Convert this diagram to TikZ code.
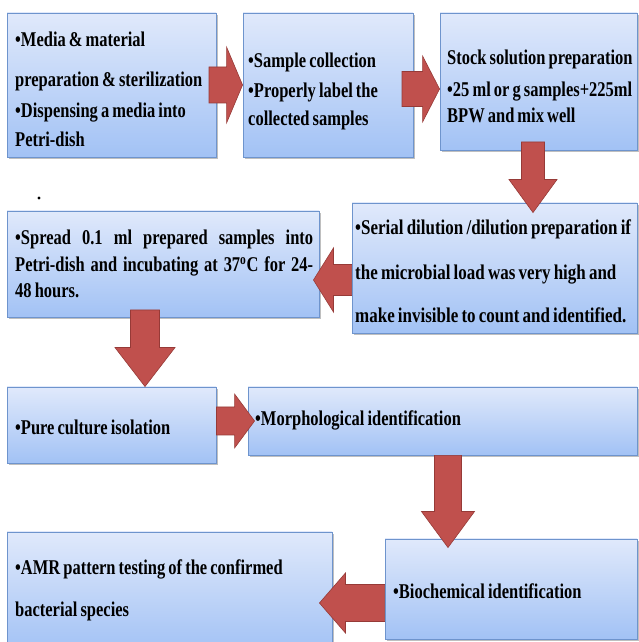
\documentclass[tikz,border=0pt]{standalone}
\usepackage{graphicx}
\usepackage{fontspec}
\setmainfont{Liberation Serif}[FakeStretch=0.785, WordSpace=0.75]
\usetikzlibrary{calc,shadows}
\definecolor{boxtop}{RGB}{224,233,251}
\definecolor{boxbot}{RGB}{162,194,245}
\definecolor{boxline}{RGB}{110,148,205}
\definecolor{arrfill}{RGB}{192,80,77}
\definecolor{arrline}{RGB}{150,58,55}
\tikzset{
 box/.style={rectangle, draw=boxline, line width=0.9pt, top color=boxtop, bottom color=boxbot, inner sep=0pt,
   drop shadow={shadow xshift=1.5pt, shadow yshift=-2pt, fill=black, opacity=0.25}},
 txt/.style={anchor=base west, inner sep=0pt, font=\fontsize{21}{25}\selectfont\bfseries},
 blockarrow/.style={fill=arrfill, draw=arrline, line width=0.6pt, line join=miter},
}
\newcommand\harr[5]{\path[blockarrow] ($(#1)+(0,{#3})$) -- ($(#2)+({-1*(#5)},{#3})$) -- ($(#2)+({-1*(#5)},{#4})$) -- (#2) -- ($(#2)+({-1*(#5)},{-1*(#4)})$) -- ($(#2)+({-1*(#5)},{-1*(#3)})$) -- ($(#1)+(0,{-1*(#3)})$) -- cycle;}
\newcommand\varr[5]{\path[blockarrow] ($(#1)+({-1*(#3)},0)$) -- ($(#2)+({-1*(#3)},{#5})$) -- ($(#2)+({-1*(#4)},{#5})$) -- (#2) -- ($(#2)+({#4},{#5})$) -- ($(#2)+({#3},{#5})$) -- ($(#1)+({#3},0)$) -- cycle;}
\newcommand\wider[1]{\scalebox{1.03}[1]{#1}}
\begin{document}
\begin{tikzpicture}[x=1pt,y=1pt]
\useasboundingbox (0,0) rectangle (638,642);
\fill[white] (0,0) rectangle (638,642);
% boxes
\node[box, minimum width=209pt, minimum height=144pt] (b1) at (111.5,557) {};
\node[box, minimum width=170pt, minimum height=144pt] (b2) at (328,557) {};
\node[box, minimum width=197pt, minimum height=137pt] (b3) at (538.5,560.5) {};
\node[box, minimum width=285pt, minimum height=130pt] (b4) at (494.5,374) {};
\node[box, minimum width=312pt, minimum height=106pt] (b5) at (163,378) {};
\node[box, minimum width=209pt, minimum height=76pt] (b6) at (111.5,217) {};
\node[box, minimum width=389pt, minimum height=68pt] (b7) at (442.5,221) {};
\node[box, minimum width=252pt, minimum height=100pt] (b8) at (511,53) {};
\node[box, minimum width=325pt, minimum height=120pt] (b9) at (169.5,50) {};
% stray dot
\node[circle, fill=black, inner sep=1.1pt] (straydot) at (39,444) {};
% texts
\node[txt] (t1a) at (15,595) {•Media \& material};
\node[txt] (t1b) at (15,555) {preparation \& sterilization};
\node[txt] (t1c) at (15,524) {•Dispensing a media into};
\node[txt] (t1d) at (15,495) {Petri-dish};
\node[txt] (t2a) at (248,574) {•Sample collection};
\node[txt] (t2b) at (248,544) {•Properly label the};
\node[txt] (t2c) at (248,516) {collected samples};
\node[txt] (t3a) at (447,577) {Stock solution preparation};
\node[txt] (t3b) at (447,545) {•25 ml or g samples+225ml};
\node[txt] (t3c) at (447,519) {BPW and mix well};
\node[txt] (t4a) at (355,407) {\wider{•Serial dilution /dilution preparation if}};
\node[txt] (t4b) at (355,362) {\wider{the microbial load was very high and}};
\node[txt] (t4c) at (355,319) {\wider{make invisible to count and identified.}};
\node[txt] (t5a) at (15,397) {\makebox[298pt][s]{•Spread 0.1 ml prepared samples into}};
\node[txt] (t5b) at (15,370) {\makebox[298pt][s]{Petri-dish and incubating at 37\textsuperscript{o}C for 24-}};
\node[txt] (t5c) at (15,344) {48 hours.};
\node[txt] (t6) at (15,207) {•Pure culture isolation};
\node[txt] (t7) at (255,216) {•Morphological identification};
\node[txt] (t8) at (393,43) {•Biochemical identification};
\node[txt] (t9a) at (15,67) {•AMR pattern testing of the confirmed};
\node[txt] (t9b) at (15,25) {bacterial species};
% arrows
\coordinate (a1s) at (209,557);
\coordinate (a1t) at (b2.west |- a1s);
\harr{a1s}{a1t}{18}{38}{16}
\coordinate (a2s) at (402,553);
\coordinate (a2t) at (b3.west |- a2s);
\harr{a2s}{a2t}{17.5}{33}{17}
\coordinate (a3s) at (533,500);
\coordinate (a3t) at ($(b4.north -| a3s)+(0,-10)$);
\varr{a3s}{a3t}{11.5}{24}{33}
\coordinate (a4s) at (b4.west |- 0,362);
\coordinate (a4t) at ($(b5.east |- 0,362)+(-6,0)$);
\harr{a4s}{a4t}{15.5}{32}{-20}
\coordinate (a5s) at (145,332);
\coordinate (a5t) at (b6.north -| a5s);
\varr{a5s}{a5t}{14.5}{30}{39}
\coordinate (a6s) at (b6.east |- 0,221);
\coordinate (a6t) at ($(b7.west |- 0,221)+(7,0)$);
\harr{a6s}{a6t}{14}{27}{20}
\coordinate (a7s) at (b7.south -| 448,0);
\coordinate (a7t) at ($(b8.north -| 448,0)+(0,-9)$);
\varr{a7s}{a7t}{13.5}{26.5}{36}
\coordinate (a8s) at (b8.west |- 0,39);
\coordinate (a8t) at ($(b9.east |- 0,39)+(-13,0)$);
\harr{a8s}{a8t}{18.5}{30}{-26}
\end{tikzpicture}
\end{document}
